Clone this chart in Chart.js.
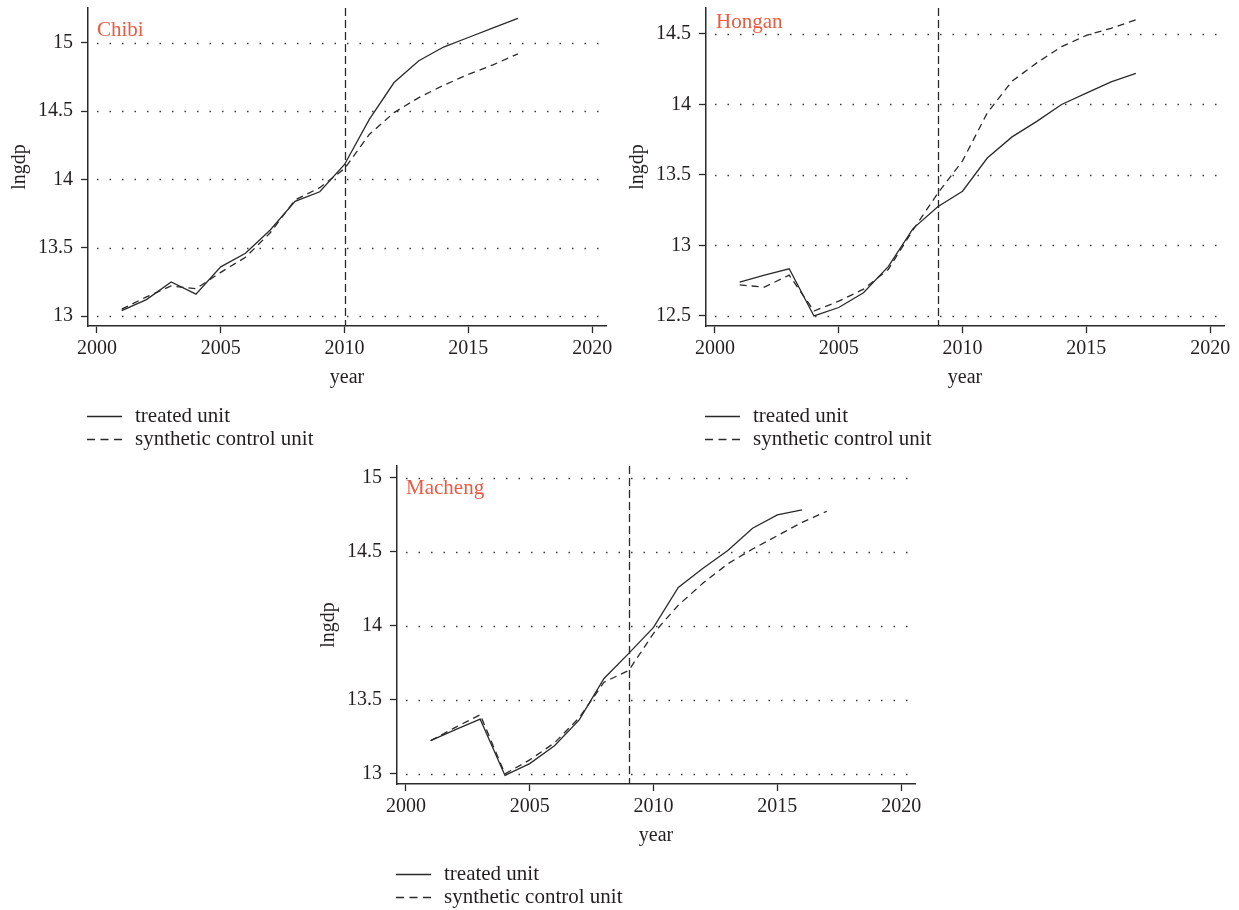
<!DOCTYPE html>
<html>
<head>
<meta charset="utf-8">
<script src="https://cdn.jsdelivr.net/npm/chart.js@4.4.1/dist/chart.umd.min.js"></script>
<style>
  html, body { margin: 0; padding: 0; background: #fff; }
  body { width: 1239px; height: 910px; position: relative; overflow: hidden; }
  .panel { position: absolute; width: 620px; height: 455px; }
</style>
</head>
<body>
<div class="panel" style="left:0px;top:0px"><canvas id="chibi" width="620" height="455"></canvas></div>
<div class="panel" style="left:618px;top:0px"><canvas id="hongan" width="620" height="455"></canvas></div>
<div class="panel" style="left:309px;top:458px"><canvas id="macheng" width="620" height="455"></canvas></div>
<script>
// ln(GDP) of each treated county and of its synthetic control, 2001-2017
const years = [2001, 2002, 2003, 2004, 2005, 2006, 2007, 2008, 2009,
               2010, 2011, 2012, 2013, 2014, 2015, 2016, 2017];

const chibiTreated   = [13.04, 13.12, 13.25, 13.16, 13.36, 13.46, 13.63, 13.84, 13.91,
                        14.11, 14.44, 14.71, 14.87, 14.97, 15.04, 15.11, 15.18];
const chibiSynthetic = [13.05, 13.14, 13.22, 13.20, 13.32, 13.43, 13.61, 13.85, 13.94,
                        14.08, 14.33, 14.49, 14.60, 14.69, 14.77, 14.84, 14.92];

const honganTreated   = [12.74, 12.79, 12.835, 12.50, 12.56, 12.665, 12.85, 13.12, 13.275,
                         13.385, 13.62, 13.77, 13.88, 14.00, 14.08, 14.16, 14.22];
const honganSynthetic = [12.72, 12.705, 12.79, 12.535, 12.605, 12.69, 12.83, 13.11, 13.37,
                         13.60, 13.94, 14.165, 14.295, 14.41, 14.49, 14.54, 14.60];

const machengTreated   = [13.225, 13.30, 13.37, 12.99, 13.07, 13.19, 13.365, 13.645, 13.815,
                          13.99, 14.26, 14.39, 14.51, 14.66, 14.75, 14.785];
const machengSynthetic = [13.225, 13.315, 13.40, 13.00, 13.095, 13.21, 13.38, 13.62, 13.70,
                          13.95, 14.14, 14.29, 14.42, 14.52, 14.61, 14.70, 14.775];

// axis ticks
const yearTicks    = [2000, 2005, 2010, 2015, 2020];
const chibiTicks   = [13, 13.5, 14, 14.5, 15];
const honganTicks  = [12.5, 13, 13.5, 14, 14.5];
const machengTicks = [13, 13.5, 14, 14.5, 15];

// policy years
const chibiPolicy = 2010;
const honganPolicy = 2009;
const machengPolicy = 2009;

const seriesLabels = ['treated unit', 'synthetic control unit'];

const SERIF = '"Liberation Serif", "DejaVu Serif", serif';
const INK = '#231f20';

function points(values) {
  return values.map((v, i) => ({ x: years[i], y: v }));
}

// dotted horizontal guides at each y tick
const dottedGrid = {
  id: 'dottedGrid',
  beforeDatasetsDraw(chart) {
    const { ctx, chartArea, scales } = chart;
    ctx.save();
    ctx.strokeStyle = '#3a3a3a';
    ctx.lineWidth = 1.5;
    ctx.setLineDash([1.5, 11]);
    scales.y.ticks.forEach(t => {
      const y = Math.round(scales.y.getPixelForValue(t.value)) + 0.5;
      ctx.beginPath();
      ctx.moveTo(chartArea.left + 9, y);
      ctx.lineTo(chartArea.right, y);
      ctx.stroke();
    });
    ctx.restore();
  }
};

// reference line, panel name, axis titles and the stacked legend
const panelDecor = {
  id: 'panelDecor',
  afterDraw(chart, args, opts) {
    const { ctx, chartArea, scales } = chart;
    ctx.save();

    const px = Math.round(scales.x.getPixelForValue(opts.policy)) + 0.5;
    ctx.strokeStyle = '#2a2a2a';
    ctx.lineWidth = 1.3;
    ctx.setLineDash([8, 4]);
    ctx.beginPath();
    ctx.moveTo(px, chartArea.top);
    ctx.lineTo(px, chartArea.bottom);
    ctx.stroke();
    ctx.setLineDash([]);

    ctx.fillStyle = '#ec5840';
    ctx.font = '21px ' + SERIF;
    ctx.textAlign = 'left';
    ctx.textBaseline = 'middle';
    ctx.fillText(opts.name, opts.nameX, opts.nameY);

    ctx.fillStyle = INK;
    ctx.font = '20px ' + SERIF;
    ctx.textAlign = 'center';
    ctx.fillText('year', (chartArea.left + chartArea.right) / 2, 378);

    ctx.save();
    ctx.translate(20, (chartArea.top + chartArea.bottom) / 2);
    ctx.rotate(-Math.PI / 2);
    ctx.fillText('lngdp', 0, 0);
    ctx.restore();

    ctx.font = '21px ' + SERIF;
    ctx.textAlign = 'left';
    chart.data.datasets.forEach((ds, i) => {
      const y = 416 + i * 23;
      ctx.strokeStyle = ds.borderColor;
      ctx.lineWidth = 1.3;
      ctx.setLineDash(ds.borderDash && ds.borderDash.length ? [8, 5.5] : []);
      ctx.beginPath();
      ctx.moveTo(87, y + 0.5);
      ctx.lineTo(122, y + 0.5);
      ctx.stroke();
      ctx.setLineDash([]);
      ctx.fillStyle = INK;
      ctx.fillText(ds.label, 135, y);
    });

    ctx.restore();
  }
};

function makePanel(id, treated, synthetic, yTicks, yMin, yMax, decor) {
  new Chart(document.getElementById(id), {
    type: 'line',
    data: {
      datasets: [
        { label: seriesLabels[0], data: points(treated),
          borderColor: '#2a2a2a', borderWidth: 1.3, pointRadius: 0, tension: 0, fill: false },
        { label: seriesLabels[1], data: points(synthetic),
          borderColor: '#2a2a2a', borderWidth: 1.3, borderDash: [7, 5], pointRadius: 0, tension: 0, fill: false }
      ]
    },
    options: {
      responsive: false,
      animation: false,
      events: [],
      layout: { padding: { top: 8, right: 14, left: 0, bottom: 0 } },
      plugins: {
        legend: { display: false },
        tooltip: { enabled: false },
        panelDecor: decor
      },
      scales: {
        x: {
          type: 'linear',
          min: 1999.64,
          max: 2020.56,
          afterBuildTicks: s => { s.ticks = yearTicks.map(v => ({ value: v })); },
          afterFit: s => { s.height = 129; s.paddingLeft = 0; s.paddingRight = 0; },
          border: { display: true, color: '#2a2a2a', width: 1.5 },
          grid: { drawOnChartArea: false, drawTicks: true, tickLength: 7,
                  tickColor: '#2a2a2a', tickWidth: 1.3 },
          ticks: { color: INK, font: { family: SERIF, size: 20 }, padding: 4,
                   maxRotation: 0, autoSkip: false, callback: v => String(v) }
        },
        y: {
          min: yMin,
          max: yMax,
          afterBuildTicks: s => { s.ticks = yTicks.map(v => ({ value: v })); },
          afterFit: s => { s.width = 88; s.paddingTop = 0; s.paddingBottom = 0; },
          border: { display: true, color: '#2a2a2a', width: 1.5 },
          grid: { drawOnChartArea: false, drawTicks: true, tickLength: 7,
                  tickColor: '#2a2a2a', tickWidth: 1.3 },
          ticks: { color: INK, font: { family: SERIF, size: 20 }, padding: 8,
                   autoSkip: false, callback: v => String(v) }
        }
      }
    },
    plugins: [dottedGrid, panelDecor]
  });
}

makePanel('chibi', chibiTreated, chibiSynthetic, chibiTicks, 12.927, 15.256,
  { policy: chibiPolicy, name: 'Chibi', nameX: 97, nameY: 30 });
makePanel('hongan', honganTreated, honganSynthetic, honganTicks, 12.429, 14.684,
  { policy: honganPolicy, name: 'Hongan', nameX: 98, nameY: 22 });
makePanel('macheng', machengTreated, machengSynthetic, machengTicks, 12.932, 15.081,
  { policy: machengPolicy, name: 'Macheng', nameX: 97, nameY: 30 });
</script>
</body>
</html>
